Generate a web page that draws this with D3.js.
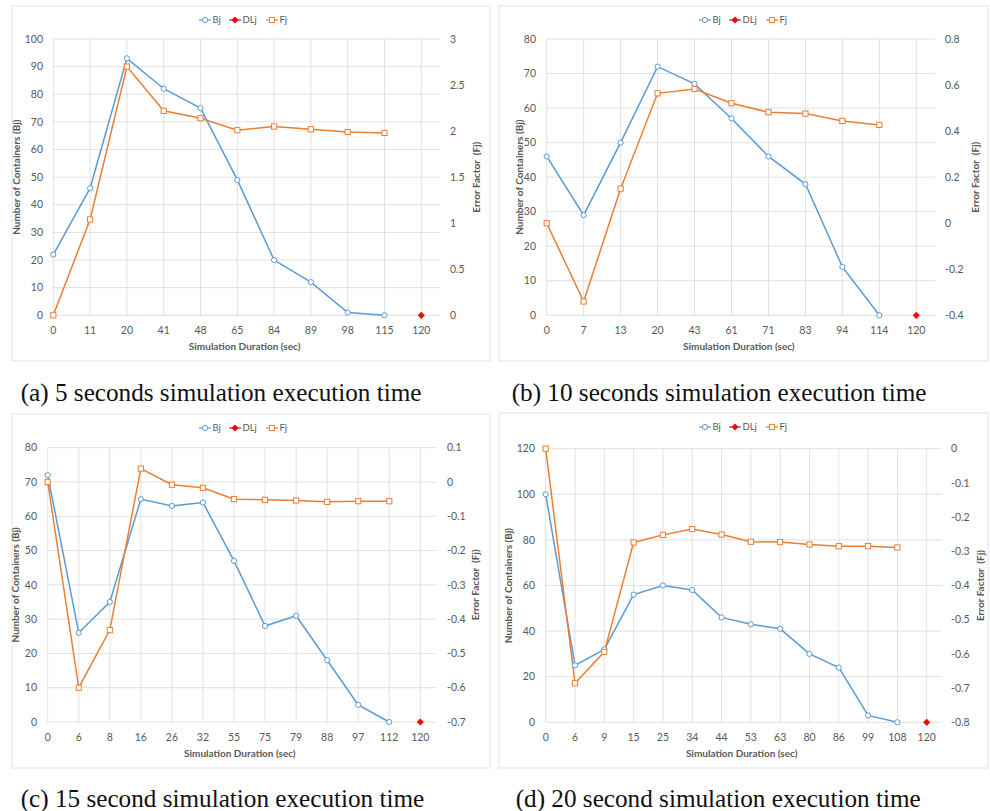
<!DOCTYPE html>
<html>
<head>
<meta charset="utf-8">
<script src="https://cdn.jsdelivr.net/npm/d3@7"></script>
<style>
  body { margin: 0; background: #fff; }
  svg { display: block; }
  .tick-label { font-family: Lato, "Open Sans", sans-serif; font-size: 10.5px; fill: #595959; }
  .axis-title { font-family: Lato, "Open Sans", sans-serif; font-size: 10px; font-weight: bold; fill: #595959; }
  .legend-text { font-family: Lato, "Open Sans", sans-serif; font-size: 9.5px; fill: #595959; }
  .caption { font-family: "Liberation Serif", "Times New Roman", serif; font-size: 25.2px; fill: #111; }
</style>
</head>
<body>
<svg id="chart" width="990" height="811"></svg>
<script>
// DATA

// (a) 5 seconds
const catsA = [0, 11, 20, 41, 48, 65, 84, 89, 98, 115, 120];
const bjA = [22, 46, 93, 82, 75, 49, 20, 12, 1, 0, null];
const fjA = [0, 1.04, 2.70, 2.22, 2.14, 2.01, 2.05, 2.02, 1.99, 1.98, null];
const leftTicksA = [0, 10, 20, 30, 40, 50, 60, 70, 80, 90, 100];
const rightTicksA = [0, 0.5, 1, 1.5, 2, 2.5, 3];

// (b) 10 seconds
const catsB = [0, 7, 13, 20, 43, 61, 71, 83, 94, 114, 120];
const bjB = [46, 29, 50, 72, 67, 57, 46, 38, 14, 0, null];
const fjB = [0, -0.34, 0.15, 0.564, 0.583, 0.521, 0.482, 0.476, 0.444, 0.427, null];
const leftTicksB = [0, 10, 20, 30, 40, 50, 60, 70, 80];
const rightTicksB = [-0.4, -0.2, 0, 0.2, 0.4, 0.6, 0.8];

// (c) 15 seconds
const catsC = [0, 6, 8, 16, 26, 32, 55, 75, 79, 88, 97, 112, 120];
const bjC = [72, 26, 35, 65, 63, 64, 47, 28, 31, 18, 5, 0, null];
const fjC = [0, -0.60, -0.432, 0.039, -0.008, -0.017, -0.050, -0.052, -0.054, -0.058, -0.056, -0.056, null];
const leftTicksC = [0, 10, 20, 30, 40, 50, 60, 70, 80];
const rightTicksC = [-0.7, -0.6, -0.5, -0.4, -0.3, -0.2, -0.1, 0, 0.1];

// (d) 20 seconds
const catsD = [0, 6, 9, 15, 25, 34, 44, 53, 63, 80, 86, 99, 108, 120];
const bjD = [100, 25, 32, 56, 60, 58, 46, 43, 41, 30, 24, 3, 0, null];
const fjD = [0, -0.686, -0.594, -0.274, -0.252, -0.235, -0.251, -0.272, -0.273, -0.280, -0.285, -0.285, -0.289, null];
const leftTicksD = [0, 20, 40, 60, 80, 100, 120];
const rightTicksD = [-0.8, -0.7, -0.6, -0.5, -0.4, -0.3, -0.2, -0.1, 0];

// DLj: one point at the deadline
const dlCat = 120;
const dlValue = 0;

const legendNames = ["Bj", "DLj", "Fj"];
const captions = [
  "(a) 5 seconds simulation execution time",
  "(b) 10 seconds simulation execution time",
  "(c) 15 second simulation execution time",
  "(d) 20 second simulation execution time"
];

const BLUE = "#5B9BD5", ORANGE = "#ED7D31", RED = "#FF0000", GRID = "#D9D9D9";

// LAYOUT per panel (pixel boxes)
const panels = [
  { cats: catsA, bj: bjA, fj: fjA, lt: leftTicksA, rt: rightTicksA, cap: captions[0],
    box: [12, 6, 490, 361], x0: 53.3, x1: 421.3, gridR: 440, yTop: 39, yBot: 315.3,
    lLab: 43, rLab: 450, lTitle: 16.7, rTitle: 476.5, legendX: 199, capX: 20.7, capY: 401 },
  { cats: catsB, bj: bjB, fj: fjB, lt: leftTicksB, rt: rightTicksB, cap: captions[1],
    box: [499, 6, 988, 361], x0: 546.7, x1: 916.3, gridR: 935, yTop: 39, yBot: 315.3,
    lLab: 536, rLab: 945, lTitle: 519.5, rTitle: 975, legendX: 699, capX: 511.7, capY: 401 },
  { cats: catsC, bj: bjC, fj: fjC, lt: leftTicksC, rt: rightTicksC, cap: captions[2],
    box: [12, 414, 490, 768], x0: 47.7, x1: 420.3, gridR: 436, yTop: 447.7, yBot: 722,
    lLab: 37, rLab: 447, lTitle: 15, rTitle: 475, legendX: 199, capX: 20.7, capY: 806.5 },
  { cats: catsD, bj: bjD, fj: fjD, lt: leftTicksD, rt: rightTicksD, cap: captions[3],
    box: [499, 413, 988, 768], x0: 545.7, x1: 926.7, gridR: 941.7, yTop: 448.7, yBot: 722.3,
    lLab: 535, rLab: 951, lTitle: 508.5, rTitle: 980, legendX: 699, capX: 515.7, capY: 806.5 }
];

const svg = d3.select("#chart");
svg.append("rect").attr("width", 990).attr("height", 811).attr("fill", "#fff");

const fmtR = (d) => String(+d.toFixed(2));

// marker helpers
function circleMarker(g, x, y) {
  g.append("circle").attr("cx", x).attr("cy", y).attr("r", 2.6)
    .attr("fill", "#fff").attr("stroke", BLUE).attr("stroke-width", 1);
}
function squareMarker(g, x, y) {
  g.append("rect").attr("x", x - 2.6).attr("y", y - 2.6).attr("width", 5.2).attr("height", 5.2)
    .attr("fill", "#fff").attr("stroke", ORANGE).attr("stroke-width", 1);
}
function diamondMarker(g, x, y) {
  g.append("path").attr("d", d3.symbol(d3.symbolSquare, 26)())
    .attr("transform", `translate(${x},${y}) rotate(45)`).attr("fill", RED);
}

panels.forEach((p) => {
  const g = svg.append("g");
  const [bx0, by0, bx1, by1] = p.box;

  // panel frame
  g.append("rect").attr("x", bx0).attr("y", by0)
    .attr("width", bx1 - bx0).attr("height", by1 - by0)
    .attr("fill", "#fff").attr("stroke", "#E3E3E3").attr("stroke-width", 1);

  const x = d3.scalePoint().domain(p.cats).range([p.x0, p.x1]);
  const yL = d3.scaleLinear().domain(d3.extent(p.lt)).range([p.yBot, p.yTop]);
  const yR = d3.scaleLinear().domain(d3.extent(p.rt)).range([p.yBot, p.yTop]);

  // GRID
  g.selectAll(".hgrid").data(p.lt).enter().append("line")
    .attr("x1", p.x0).attr("x2", p.gridR)
    .attr("y1", (d) => yL(d)).attr("y2", (d) => yL(d))
    .attr("stroke", GRID).attr("stroke-width", 0.8);
  g.selectAll(".vgrid").data(p.cats).enter().append("line")
    .attr("x1", (d) => x(d)).attr("x2", (d) => x(d))
    .attr("y1", p.yTop).attr("y2", p.yBot)
    .attr("stroke", GRID).attr("stroke-width", 0.8);

  // TICK LABELS
  g.selectAll(".ll").data(p.lt).enter().append("text")
    .attr("class", "tick-label").attr("x", p.lLab).attr("y", (d) => yL(d))
    .attr("dy", "0.35em").attr("text-anchor", "end").text((d) => d);
  g.selectAll(".rl").data(p.rt).enter().append("text")
    .attr("class", "tick-label").attr("x", p.rLab).attr("y", (d) => yR(d))
    .attr("dy", "0.35em").attr("text-anchor", "start").text(fmtR);
  g.selectAll(".xl").data(p.cats).enter().append("text")
    .attr("class", "tick-label").attr("x", (d) => x(d)).attr("y", p.yBot + 15)
    .attr("dy", "0.35em").attr("text-anchor", "middle").text((d) => d);

  // AXIS TITLES
  const midY = (p.yTop + p.yBot) / 2;
  g.append("text").attr("class", "axis-title")
    .attr("transform", `translate(${p.lTitle},${midY}) rotate(-90)`)
    .attr("text-anchor", "middle").attr("dy", "0.35em").text("Number of Containers (Bj)");
  g.append("text").attr("class", "axis-title")
    .attr("transform", `translate(${p.rTitle},${midY}) rotate(-90)`)
    .attr("text-anchor", "middle").attr("dy", "0.35em").attr("xml:space", "preserve")
    .text("Error Factor  (Fj)");
  g.append("text").attr("class", "axis-title")
    .attr("x", (p.x0 + p.gridR) / 2 - 2).attr("y", p.yBot + 31)
    .attr("dy", "0.35em").attr("text-anchor", "middle").text("Simulation Duration (sec)");

  // LINES
  const bjPts = p.cats.map((c, i) => [c, p.bj[i]]).filter((d) => d[1] != null);
  const fjPts = p.cats.map((c, i) => [c, p.fj[i]]).filter((d) => d[1] != null);

  g.append("path").datum(bjPts)
    .attr("d", d3.line().x((d) => x(d[0])).y((d) => yL(d[1])))
    .attr("fill", "none").attr("stroke", BLUE).attr("stroke-width", 1.5);
  g.append("path").datum(fjPts)
    .attr("d", d3.line().x((d) => x(d[0])).y((d) => yR(d[1])))
    .attr("fill", "none").attr("stroke", ORANGE).attr("stroke-width", 1.5);

  bjPts.forEach((d) => circleMarker(g, x(d[0]), yL(d[1])));
  fjPts.forEach((d) => squareMarker(g, x(d[0]), yR(d[1])));
  diamondMarker(g, x(dlCat), yL(dlValue));

  // LEGEND
  const ly = by0 + 14;
  const lg = g.append("g").attr("transform", `translate(${p.legendX},${ly})`);
  const items = [
    { name: legendNames[0], color: BLUE, mk: circleMarker, w: 30 },
    { name: legendNames[1], color: RED, mk: diamondMarker, w: 37 },
    { name: legendNames[2], color: ORANGE, mk: squareMarker, w: 30 }
  ];
  let off = 0;
  items.forEach((it) => {
    lg.append("line").attr("x1", off).attr("x2", off + 12).attr("y1", 0).attr("y2", 0)
      .attr("stroke", it.color === RED ? "#595959" : it.color).attr("stroke-width", 1.2);
    it.mk(lg, off + 6, 0);
    lg.append("text").attr("class", "legend-text").attr("x", off + 13.5).attr("y", 0)
      .attr("dy", "0.35em").text(it.name);
    off += it.w;
  });

  // CAPTION
  svg.append("text").attr("class", "caption").attr("x", p.capX).attr("y", p.capY).text(p.cap);
});
</script>
</body>
</html>
